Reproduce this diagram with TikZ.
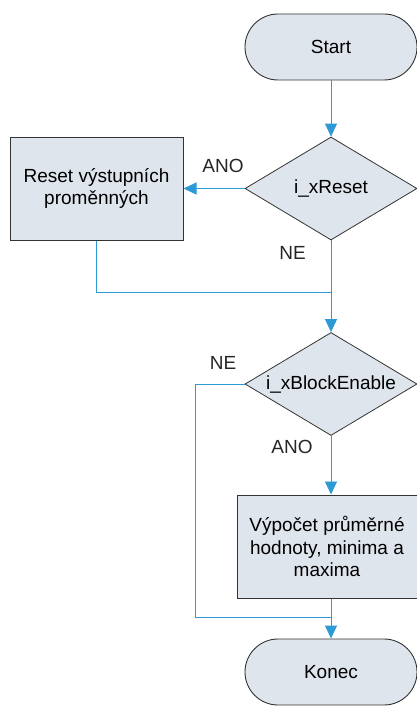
\documentclass[tikz,border=0pt]{standalone}
\usepackage{fontspec}
\setmainfont{Liberation Sans}
\usetikzlibrary{shapes.geometric,shapes.misc,arrows.meta}
\definecolor{boxfill}{HTML}{DFE5EC}
\definecolor{boxline}{HTML}{333333}
\definecolor{flow}{HTML}{2D9AD6}
\begin{document}
\begin{tikzpicture}[x=1pt,y=-1pt,
  font=\fontsize{19}{22.5}\selectfont,
  term/.style={draw=boxline,fill=boxfill,line width=0.9pt,rounded rectangle,minimum width=172pt,minimum height=66pt,inner sep=0pt},
  proc/.style={draw=boxline,fill=boxfill,line width=1pt,rectangle,align=center,inner sep=0pt},
  dec/.style={draw=boxline,fill=boxfill,line width=0.8pt,diamond,aspect=1.67,minimum width=172pt,minimum height=103pt,inner sep=0pt},
  conn/.style={draw=flow,line width=0.9pt},
  arr/.style={conn,-{Triangle[length=13pt,width=12pt]}},
  lbl/.style={text=black!85,inner sep=0pt}]
\useasboundingbox (0,0) rectangle (417,706);
\node[term] (start) at (331,47) {Start};
\node[dec] (d1) at (331,188.5) {i\_xReset};
\node[proc,minimum width=173pt,minimum height=103pt] (reset) at (96.5,188.5) {Reset výstupních\\proměnných};
\node[dec] (d2) at (331,384) {i\_xBlockEnable};
\node[proc,minimum width=180pt,minimum height=103pt] (calc) at (327,546.5) {Výpočet průměrné\\hodnoty, minima a\\maxima};
\node[term] (end) at (331,672) {Konec};
\coordinate (j1) at (331,292);
\coordinate (j2) at (331,617);
\coordinate (c1) at (96.5,292);
\coordinate (c2) at (195,384);
\coordinate (c3) at (195,617);
\draw[arr] (start.south) -- (d1.north);
\draw[arr] (d1.west) -- (reset.east);
\draw[conn] (reset.south) -- (c1) -- (j1);
\draw[arr] (d1.south) -- (d2.north);
\draw[arr] (d2.south) -- (calc.north -| d2.south);
\draw[conn] (d2.west) -- (c2) -- (c3) -- (j2);
\draw[arr] (calc.south -| end.north) -- (end.north);
\node[lbl] (l1) at (223,166) {ANO};
\node[lbl] (l2) at (292.5,253) {NE};
\node[lbl] (l3) at (223,363) {NE};
\node[lbl] (l4) at (292,447) {ANO};
\end{tikzpicture}
\end{document}
